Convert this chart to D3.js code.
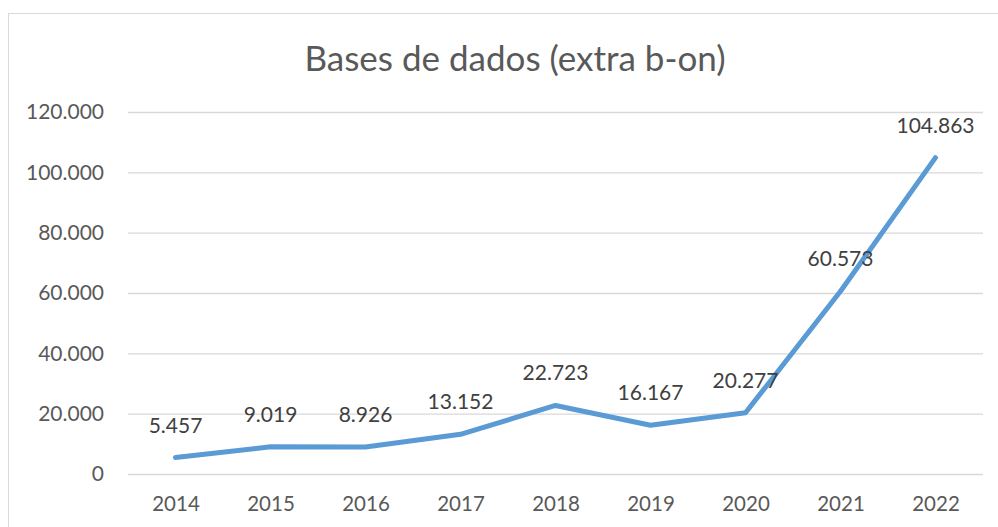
<!DOCTYPE html>
<html>
<head>
<meta charset="utf-8">
<script src="https://cdn.jsdelivr.net/npm/d3@7"></script>
<style>
  body { margin: 0; background: #fff; }
  svg { display: block; font-family: Lato, "Open Sans", sans-serif; }
</style>
</head>
<body>
<svg width="998" height="527"></svg>
<script>
const years = ['2014', '2015', '2016', '2017', '2018', '2019', '2020', '2021', '2022'];
const values = [5457, 9019, 8926, 13152, 22723, 16167, 20277, 60573, 104863];
const yTicks = [0, 20000, 40000, 60000, 80000, 100000, 120000];
const title = 'Bases de dados (extra b-on)';

const svg = d3.select('svg');
svg.selectAll('*').remove();

const plotLeft = 128;
const plotRight = 983;
const plotTop = 112;
const plotBottom = 474;

// outer chart frame (runs past the right/bottom edges)
svg.append('rect')
    .attr('x', 8.5)
    .attr('y', 13.5)
    .attr('width', 1010)
    .attr('height', 540)
    .attr('fill', '#fff')
    .attr('stroke', '#d9d9d9')
    .attr('stroke-width', 1);

const xScale = d3.scalePoint()
    .domain(years)
    .range([plotLeft, plotRight])
    .padding(0.5);

const yScale = d3.scaleLinear()
    .domain([0, 120000])
    .range([plotBottom, plotTop]);

const fmt = v => d3.format(',')(v).replace(/,/g, '.');

// gridlines + y labels
const yAxis = d3.axisLeft(yScale)
    .tickValues(yTicks)
    .tickSize(-(plotRight - plotLeft))
    .tickPadding(24)
    .tickFormat(fmt);

svg.append('g')
    .attr('transform', `translate(${plotLeft}, 0)`)
    .call(yAxis)
    .call(g => g.select('.domain').remove())
    .call(g => g.selectAll('.tick line').attr('stroke', '#d9d9d9').attr('stroke-width', 1.3))
    .call(g => g.selectAll('.tick text')
        .attr('fill', '#595959')
        .attr('font-size', 21)
        .attr('font-family', 'Lato, sans-serif'));

// x labels
const xAxis = d3.axisBottom(xScale)
    .tickSize(0)
    .tickPadding(22);

svg.append('g')
    .attr('transform', `translate(0, ${plotBottom})`)
    .call(xAxis)
    .call(g => g.select('.domain').remove())
    .call(g => g.selectAll('.tick text')
        .attr('fill', '#595959')
        .attr('font-size', 20.5)
        .attr('font-family', 'Lato, sans-serif'));

// title
svg.append('text')
    .attr('x', 515)
    .attr('y', 71)
    .attr('text-anchor', 'middle')
    .attr('fill', '#595959')
    .attr('font-size', 35)
    .text(title);

const line = d3.line()
    .x((d, i) => xScale(years[i]))
    .y(d => yScale(d));

svg.append('path')
    .attr('d', line(values))
    .attr('fill', 'none')
    .attr('stroke', '#5b9bd5')
    .attr('stroke-width', 5)
    .attr('stroke-linecap', 'round')
    .attr('stroke-linejoin', 'round');

// data labels
svg.append('g')
    .selectAll('text')
    .data(values)
    .join('text')
    .attr('x', (d, i) => xScale(years[i]))
    .attr('y', d => yScale(d) - 25)
    .attr('text-anchor', 'middle')
    .attr('fill', '#404040')
    .attr('font-size', 21)
    .text(d => fmt(d));
</script>
</body>
</html>
